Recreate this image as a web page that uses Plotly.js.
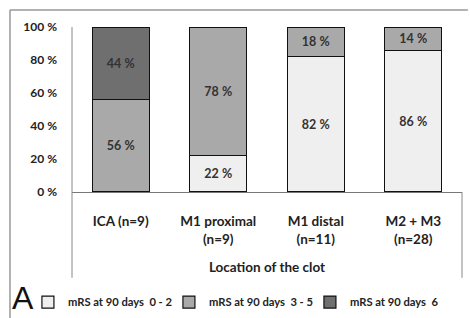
<!DOCTYPE html>
<html><head><meta charset="utf-8">
<script src="https://cdn.plot.ly/plotly-3.0.1.min.js"></script>
<style>html,body{margin:0;padding:0;background:#fff}#chart{width:470px;height:318px}</style>
</head><body><div id="chart"></div>
<script>
var categories = ['ICA (n=9)', 'M1 proximal<br>(n=9)', 'M1 distal<br>(n=11)', 'M2 + M3<br>(n=28)'];
var mrs02 = [0, 22, 82, 86];
var mrs35 = [56, 78, 18, 14];
var mrs6 = [44, 0, 0, 0];
var seriesNames = ['mRS at 90 days  0 - 2', 'mRS at 90 days  3 - 5', 'mRS at 90 days  6'];
var yTickVals = [0, 20, 40, 60, 80, 100];
var yTickText = ['0 %', '20 %', '40 %', '60 %', '80 %', '100 %'];
var colors = ['#efefef', '#a9a9a9', '#6f6f6f'];
var font = 'Lato, Open Sans, sans-serif';

function mk(vals, i) {
  return {
    type: 'bar', x: categories, y: vals, name: seriesNames[i],
    marker: {color: colors[i], line: {color: '#111', width: 1.2}},
    text: vals.map(function(v){ return v > 0 ? v + ' %' : ''; }),
    textposition: 'inside', insidetextanchor: 'middle',
    textfont: {family: font, size: 12.5, color: '#333', weight: 'bold'},
    constraintext: 'none', hoverinfo: 'none'
  };
}
var data = [mk(mrs02, 0), mk(mrs35, 1), mk(mrs6, 2)];

var layout = {
  width: 470, height: 318,
  margin: {l: 72, r: 8, t: 27, b: 126, autoexpand: false},
  barmode: 'stack', bargap: 0.414,
  paper_bgcolor: '#fff', plot_bgcolor: '#fff',
  font: {family: font, color: '#222'},
  showlegend: true,
  legend: {orientation: 'h', x: -0.113, y: -0.667, yanchor: 'middle', xanchor: 'left',
    font: {family: font, size: 11.2, color: '#222', weight: 'bold'}, traceorder: 'normal',
    itemwidth: 30, entrywidth: 96, itemclick: false, tracegroupgap: 0},
  xaxis: {showline: true, linecolor: '#777', linewidth: 1, ticks: '', showgrid: false,
    ticklabelstandoff: 17,
    tickfont: {family: font, size: 13.5, color: '#222', weight: 'bold'},
    title: {text: 'Location of the clot', font: {family: font, size: 13.5, color: '#222', weight: 'bold'}, standoff: 16}},
  yaxis: {range: [0, 100], tickmode: 'array', tickvals: yTickVals, ticktext: yTickText, showgrid: false,
    showline: false, zeroline: false, ticks: '', ticklabelstandoff: 14,
    tickfont: {family: font, size: 12, color: '#222', weight: 'bold'}},
  shapes: [
    {type: 'line', xref: 'paper', yref: 'paper', x0: 0, x1: 0, y0: 1, y1: -0.52, line: {color: '#888', width: 1}},
    {type: 'line', xref: 'paper', yref: 'paper', x0: 1, x1: 1, y0: 0, y1: -0.52, line: {color: '#888', width: 1}},
    {type: 'line', xref: 'paper', yref: 'paper', x0: -0.159, x1: 1.015, y0: 1.103, y1: 1.103, line: {color: '#999', width: 1.5}},
    {type: 'line', xref: 'paper', yref: 'paper', x0: -0.159, x1: -0.159, y0: 1.103, y1: -0.8, line: {color: '#999', width: 1.5}}
  ],
  annotations: [
    {text: 'A', xref: 'paper', yref: 'paper', x: -0.16, y: -0.64, xanchor: 'left', yanchor: 'middle',
     showarrow: false, font: {family: 'Liberation Sans, sans-serif', size: 32, color: '#111'}}
  ]
};
Plotly.newPlot('chart', data, layout, {displayModeBar: false, staticPlot: true});
</script></body></html>
